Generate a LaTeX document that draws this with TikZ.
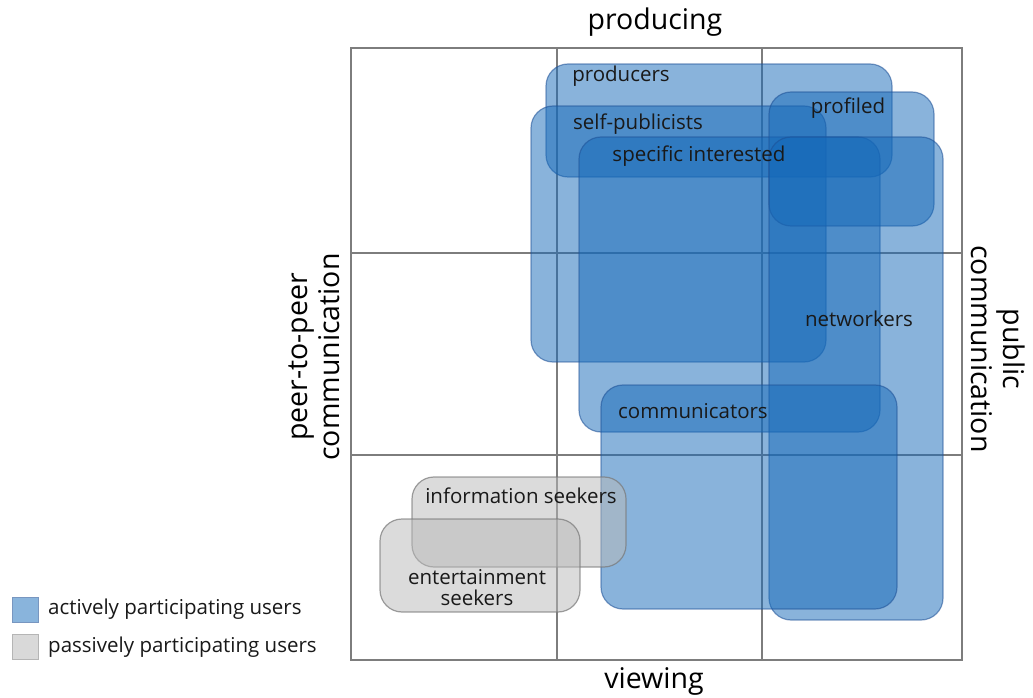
\documentclass[tikz,border=0pt]{standalone}
\usepackage{fontspec}
\setmainfont{Open Sans}
\begin{document}
\begin{tikzpicture}[x=1pt,y=1pt,
  gridline/.style={draw=gridgray, line width=1.4pt},
  userbox/.style={rectangle, rounded corners=22pt, inner sep=0pt, outer sep=0pt, line width=1.2pt},
  activebox/.style={userbox, fill=activeblue, fill opacity=0.5, draw=activeedge, draw opacity=0.55},
  passivebox/.style={userbox, fill=passivegray, fill opacity=0.5, draw=passiveedge, draw opacity=0.7},
  boxsize/.style 2 args={minimum width=#1pt, minimum height=#2pt},
  lbl/.style={font=\fontsize{20.5}{21}\selectfont, text=black!90, inner sep=0pt, align=center},
  axis/.style={font=\fontsize{28.5}{32}\selectfont, text=black, inner sep=0pt, align=center},
  legendsq/.style={rectangle, inner sep=0pt, minimum width=26pt, minimum height=25pt, line width=1pt}
]
\definecolor{gridgray}{RGB}{125,125,125}
\definecolor{activeblue}{RGB}{20,105,185}
\definecolor{activeedge}{RGB}{30,80,150}
\definecolor{passivegray}{RGB}{185,185,185}
\definecolor{passiveedge}{RGB}{120,120,120}

\useasboundingbox[fill=white] (0,0) rectangle (1033,697);

% quadrant grid
\draw[gridline] (351,37) rectangle (962,649);
\draw[gridline] (557,37) -- (557,649);
\draw[gridline] (762,37) -- (762,649);
\draw[gridline] (351,444) -- (962,444);
\draw[gridline] (351,242) -- (962,242);

% active user groups
\node[activebox, boxsize={346}{113}] (producers) at (719,576.5) {};
\node[activebox, boxsize={295}{256}] (selfpub) at (678.5,463) {};
\node[activebox, boxsize={301}{295}] (specific) at (729.5,412.5) {};
\node[activebox, boxsize={165}{134}] (profiled) at (851.5,538) {};
\node[activebox, boxsize={174}{483}] (networkers) at (856,318.5) {};
\node[activebox, boxsize={296}{224}] (communicators) at (749,200) {};

% passive user groups
\node[passivebox, boxsize={214}{90}] (infoseek) at (519,175) {};
\node[passivebox, boxsize={200}{93}] (entseek) at (480,131.5) {};

% group labels
\node[lbl] (producerstxt) at (621,621) {producers};
\node[lbl] (profiledtxt) at (848,589) {profiled};
\node[lbl] (selfpubtxt) at (638,573) {self-publicists};
\node[lbl] (specifictxt) at (699,541) {specific interested};
\node[lbl] (networkerstxt) at (859,378) {networkers};
\node[lbl] (communicatorstxt) at (693,286) {communicators};
\node[lbl] (infoseektxt) at (521,201) {information seekers};
\node[lbl] (entseektxt) at (477,109) {entertainment\\seekers};

% axis labels
\node[axis] (producing) at (655,675) {producing};
\node[axis] (viewing) at (654,16) {viewing};
\node[axis, rotate=90] (peer) at (314,340) {peer-to-peer\\communication};
\node[axis, rotate=-90] (public) at (998,348) {public\\communication};

% legend
\node[legendsq, fill=activeblue!50, draw=activeedge!60] (legactive) at (25,87.5) {};
\node[legendsq, fill=passivegray!55, draw=passiveedge!55] (legpassive) at (25,50) {};
\node[lbl, anchor=west] (legactivetxt) at (48,88) {actively participating users};
\node[lbl, anchor=west] (legpassivetxt) at (48,50) {passively participating users};
\end{tikzpicture}
\end{document}
